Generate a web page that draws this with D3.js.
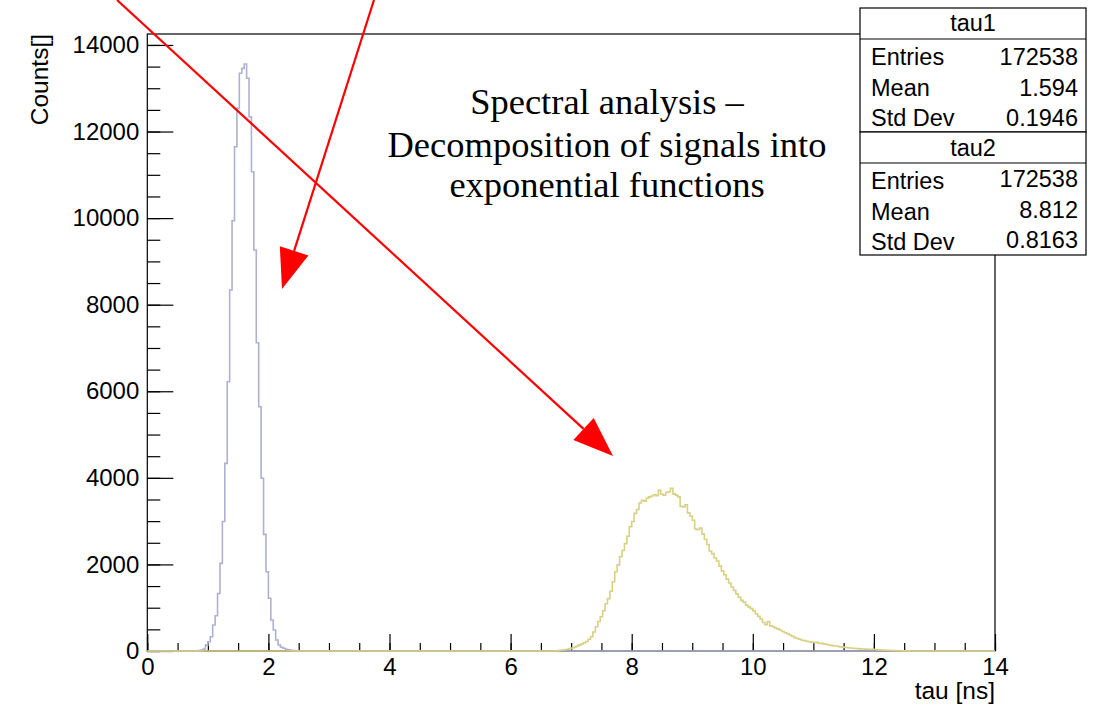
<!DOCTYPE html>
<html lang="en">
<meta charset="utf-8">
<title>tau spectra</title>
<style>
    body { margin: 0; background: white; }
</style>
<body>
<svg id="canvas"></svg>
<script src="https://cdn.jsdelivr.net/npm/d3@7/dist/d3.min.js"></script>
<script>

    ///////////////////// Data ////////////////////////
    var bin_width      = 0.04;
    var n_bins         = 350;
    // tau1: counts per bin starting at bin index tau1_first_bin
    var tau1_first_bin = 20;
    var tau1_counts    = [3, 8, 20, 45, 135, 215, 330, 600, 815, 1330,
                          2025, 2990, 4335, 6220, 8340, 9940, 11650, 12536, 13345, 13460,
                          13560, 13230, 12343, 11072, 9263, 7122, 5643, 3990, 2695, 1832,
                          1217, 716, 485, 254, 139, 85, 62, 40, 25, 15,
                          8, 4];
    // tau2: counts per bin starting at bin index tau2_first_bin
    var tau2_first_bin = 168;
    var tau2_counts    = [5, 8, 16, 22, 30, 42, 55, 68, 85, 110,
                          135, 160, 190, 220, 270, 330, 440, 560, 680, 790,
                          930, 1090, 1210, 1380, 1600, 1830, 1990, 2180, 2320, 2480,
                          2650, 2870, 2990, 3180, 3270, 3420, 3480, 3460, 3530, 3560,
                          3580, 3610, 3590, 3710, 3620, 3600, 3660, 3680, 3760, 3630,
                          3600, 3560, 3340, 3330, 3380, 3190, 3120, 3020, 2820, 2800,
                          2840, 2700, 2580, 2460, 2310, 2250, 2150, 2080, 1960, 1850,
                          1760, 1660, 1570, 1480, 1400, 1320, 1240, 1170, 1130, 1060,
                          1020, 980, 930, 860, 800, 740, 660, 610, 680, 580,
                          560, 530, 510, 480, 450, 420, 400, 370, 340, 310,
                          290, 270, 250, 240, 225, 215, 205, 195, 200, 180,
                          175, 165, 155, 140, 130, 120, 115, 105, 95, 90,
                          80, 75, 68, 62, 58, 55, 50, 47, 44, 42,
                          40, 38, 33, 30, 27, 24, 20, 17, 15, 12,
                          10, 8, 6, 5, 4, 3, 2, 1];
    var x_major        = [0, 2, 4, 6, 8, 10, 12, 14];
    var y_major        = [0, 2000, 4000, 6000, 8000, 10000, 12000, 14000];
    var x_domain       = [0, 14];
    var y_domain       = [0, 14253];
    var stat_labels    = ["Entries", "Mean", "Std Dev"];
    var tau1_stats     = ["172538", "1.594", "0.1946"];
    var tau2_stats     = ["172538", "8.812", "0.8163"];
    var title_lines    = ["Spectral analysis \u2013",
                          "Decomposition of signals into",
                          "exponential functions"];
    ///////////////////////////////////////////////////

    ///////// Position and Dimension Variables ////////
    var dimensions   = [1097, 705];
    var frame_left   = 147.3;
    var frame_right  = 995;
    var frame_top    = 34;
    var frame_bot    = 651;
    var x_major_len  = 17;
    var x_minor_len  = 8;
    var y_major_len  = 26;
    var y_minor_len  = 13;
    ///////////////////////////////////////////////////

    ///////////////// Style Variables /////////////////
    var sans         = '"Liberation Sans", Arial, Helvetica, sans-serif';
    var serif        = '"Liberation Serif", "Times New Roman", serif';
    var tau1_color   = '#b0b0d0';
    var tau2_color   = '#d8d184';
    var arrow_color  = '#ff0000';
    var label_size   = 24;
    var title_size_a = 24.5;
    var stat_size    = 23.5;
    var title_size   = 36.5;
    ///////////////////////////////////////////////////

    //////////////////// BG layer /////////////////////
    var canvas = d3.select("#canvas")
        .attr('width',  dimensions[0])
        .attr('height', dimensions[1])
        .style('background-color', 'white');
    ///////////////////////////////////////////////////

    ///////////////////// scales //////////////////////
    var x = d3.scaleLinear().domain(x_domain).range([frame_left, frame_right]);
    var y = d3.scaleLinear().domain(y_domain).range([frame_bot, frame_top]);
    ///////////////////////////////////////////////////

    ////////////////////// axes ///////////////////////
    var x_minor = d3.range(0, 14.001, 0.5);
    var y_minor = d3.range(0, 14001, 500);

    canvas.append("g")
        .attr('transform', 'translate(0,' + frame_bot + ')')
        .call(d3.axisBottom(x).tickValues(x_major).tickSizeInner(-x_major_len)
              .tickSizeOuter(0).tickPadding(7).tickFormat(d3.format("d")));
    canvas.append("g")
        .attr('transform', 'translate(0,' + frame_bot + ')')
        .call(d3.axisBottom(x).tickValues(x_minor).tickSizeInner(-x_minor_len)
              .tickSizeOuter(0).tickFormat(""));

    canvas.append("g")
        .attr('transform', 'translate(' + frame_left + ',0)')
        .call(d3.axisLeft(y).tickValues(y_major).tickSizeInner(-y_major_len)
              .tickSizeOuter(0).tickPadding(8).tickFormat(d3.format("d")));
    canvas.append("g")
        .attr('transform', 'translate(' + frame_left + ',0)')
        .call(d3.axisLeft(y).tickValues(y_minor).tickSizeInner(-y_minor_len)
              .tickSizeOuter(0).tickFormat(""));

    canvas.selectAll(".domain").remove();
    canvas.selectAll(".tick line").attr('stroke', 'black').attr('stroke-width', 1.2);
    canvas.selectAll(".tick text")
        .attr('font-family', sans)
        .attr('font-size', label_size)
        .attr('fill', 'black');
    ///////////////////////////////////////////////////

    ///////////////////// frame ///////////////////////
    canvas.append("rect")
        .attr('x', frame_left)
        .attr('y', frame_top)
        .attr('width',  frame_right - frame_left)
        .attr('height', frame_bot - frame_top)
        .attr('fill', 'none')
        .attr('stroke', 'black')
        .attr('stroke-width', 1.2);
    ///////////////////////////////////////////////////

    /////////////////// histograms ////////////////////
    function full_bins(first, counts) {
        var bins = d3.range(n_bins).map(function () { return 0; });
        counts.forEach(function (c, i) { bins[first + i] = c; });
        return bins;
    }
    function step_points(bins) {
        var pts = [[0, 0]];
        bins.forEach(function (c, i) {
            pts.push([i * bin_width, c]);
            pts.push([(i + 1) * bin_width, c]);
        });
        pts.push([n_bins * bin_width, 0]);
        return pts;
    }
    var step_line = d3.line()
        .x(function (d) { return x(d[0]); })
        .y(function (d) { return y(d[1]); });

    canvas.append("path")
        .datum(step_points(full_bins(tau1_first_bin, tau1_counts)))
        .attr('d', step_line)
        .attr('fill', 'none')
        .attr('stroke', tau1_color)
        .attr('stroke-width', 1.6);
    canvas.append("path")
        .datum(step_points(full_bins(tau2_first_bin, tau2_counts)))
        .attr('d', step_line)
        .attr('fill', 'none')
        .attr('stroke', tau2_color)
        .attr('stroke-width', 1.6);
    ///////////////////////////////////////////////////

    ////////////////// axis titles ////////////////////
    canvas.append("text")
        .attr('x', frame_right)
        .attr('y', 699)
        .attr('text-anchor', 'end')
        .attr('font-family', sans)
        .attr('font-size', title_size_a)
        .text("tau [ns]");
    canvas.append("text")
        .attr('transform', 'translate(48,' + frame_top + ') rotate(-90)')
        .attr('text-anchor', 'end')
        .attr('font-family', sans)
        .attr('font-size', title_size_a)
        .text("Counts[]");
    ///////////////////////////////////////////////////

    ///////////////////// title ///////////////////////
    var title_base = [114, 157, 197];
    canvas.selectAll(".title_line")
        .data(title_lines)
        .enter().append("text")
        .attr('class', 'title_line')
        .attr('x', 607)
        .attr('y', function (d, i) { return title_base[i]; })
        .attr('text-anchor', 'middle')
        .attr('font-family', serif)
        .attr('font-size', title_size)
        .text(function (d) { return d; });
    ///////////////////////////////////////////////////

    /////////////////// stat boxes ////////////////////
    var box_x     = 860;
    var box_w     = 226;
    function stat_box(name, values, top, bottom, head_line, head_base, rows, value_shift) {
        var g = canvas.append("g");
        g.append("rect")
            .attr('x', box_x).attr('y', top)
            .attr('width', box_w).attr('height', bottom - top)
            .attr('fill', 'white').attr('stroke', 'black').attr('stroke-width', 1.2);
        g.append("line")
            .attr('x1', box_x).attr('x2', box_x + box_w)
            .attr('y1', head_line).attr('y2', head_line)
            .attr('stroke', 'black').attr('stroke-width', 1.2);
        g.append("text")
            .attr('x', box_x + box_w / 2).attr('y', head_base)
            .attr('text-anchor', 'middle')
            .attr('font-family', sans).attr('font-size', stat_size)
            .text(name);
        stat_labels.forEach(function (lab, i) {
            g.append("text")
                .attr('x', box_x + 11).attr('y', rows[i])
                .attr('font-family', sans).attr('font-size', stat_size)
                .text(lab);
            g.append("text")
                .attr('x', box_x + box_w - 8).attr('y', rows[i] - value_shift)
                .attr('text-anchor', 'end')
                .attr('font-family', sans).attr('font-size', stat_size)
                .text(values[i]);
        });
    }
    stat_box("tau1", tau1_stats, 8, 132, 39, 31, [65, 96, 126], 0);
    stat_box("tau2", tau2_stats, 132, 255, 163, 156, [189, 220, 250], 2);
    ///////////////////////////////////////////////////

    ///////////////////// arrows //////////////////////
    function arrow(x0, y0, x1, y1) {
        var dx = x1 - x0, dy = y1 - y0;
        var len = Math.sqrt(dx * dx + dy * dy);
        var ux = dx / len, uy = dy / len;
        var head_len = 40, head_half = 15;
        var bx = x1 - head_len * ux, by = y1 - head_len * uy;
        canvas.append("line")
            .attr('x1', x0).attr('y1', y0)
            .attr('x2', bx).attr('y2', by)
            .attr('stroke', arrow_color).attr('stroke-width', 2.2);
        canvas.append("path")
            .attr('d', 'M' + x1 + ',' + y1 +
                       'L' + (bx - head_half * uy) + ',' + (by + head_half * ux) +
                       'L' + (bx + head_half * uy) + ',' + (by - head_half * ux) + 'Z')
            .attr('fill', arrow_color);
    }
    arrow(117, 0, 613, 456);
    arrow(374, 0, 282, 289);
    ///////////////////////////////////////////////////

</script>
</body>
</html>
